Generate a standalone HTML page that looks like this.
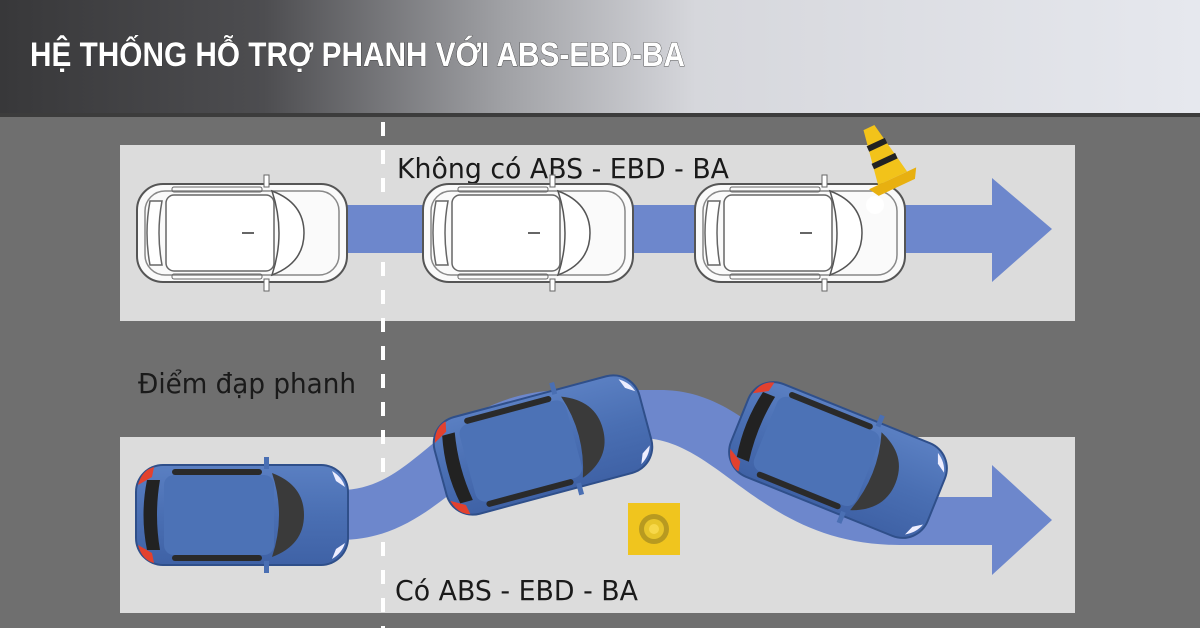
<!DOCTYPE html>
<html><head><meta charset="utf-8"><style>
html,body{margin:0;padding:0;width:1200px;height:628px;overflow:hidden;background:#6f6f6f}
svg{display:block}
</style></head><body>
<svg width="1200" height="628" viewBox="0 0 1200 628" xmlns="http://www.w3.org/2000/svg">
<defs>
<linearGradient id="hd" x1="0" x2="1" y1="0" y2="0">
<stop offset="0" stop-color="#38383a"/><stop offset="0.22" stop-color="#4d4d50"/><stop offset="0.42" stop-color="#a0a1a5"/><stop offset="0.58" stop-color="#d6d7dc"/><stop offset="1" stop-color="#e6e8ee"/>
</linearGradient>
<linearGradient id="blue" x1="0" x2="0" y1="0" y2="1">
<stop offset="0" stop-color="#5a7fc2"/><stop offset="0.5" stop-color="#4a6fb3"/><stop offset="1" stop-color="#3f62a6"/>
</linearGradient>
<g id="bcar">
<rect x="-107" y="-51" width="214" height="102" rx="28" fill="#2f4f8a"/>
<rect x="-105" y="-49" width="210" height="98" rx="26" fill="url(#blue)"/>
<path d="M-95,-35 Q-102,0 -95,35 L-82,35 Q-88,0 -82,-35Z" fill="#222"/>
<path d="M30,-42 Q62,-30 62,0 Q62,30 30,42 Q44,0 30,-42Z" fill="#3a3a3a"/>
<rect x="-78" y="-40" width="110" height="80" rx="10" fill="#4c72b6"/>
<rect x="-70" y="-46" width="90" height="6" rx="3" fill="#2a2a2a"/>
<rect x="-70" y="40" width="90" height="6" rx="3" fill="#2a2a2a"/>
<path d="M-104,-30 Q-100,-45 -88,-48 L-90,-38Z" fill="#e2412e"/>
<path d="M-104,30 Q-100,45 -88,48 L-90,38Z" fill="#e2412e"/>
<path d="M90,-44 Q100,-38 103,-28 L94,-34Z" fill="#eef"/>
<path d="M90,44 Q100,38 103,28 L94,34Z" fill="#eef"/>
<rect x="22" y="-58" width="5" height="12" fill="#4a6fb3"/>
<rect x="22" y="46" width="5" height="12" fill="#4a6fb3"/>
</g>
<g id="wcar">
<rect x="-105" y="-49" width="210" height="98" rx="26" fill="#fafafa" stroke="#555" stroke-width="2"/>
<rect x="-97" y="-42" width="194" height="84" rx="20" fill="none" stroke="#888" stroke-width="1.5"/>
<path d="M-92,-32 Q-98,0 -92,32 L-80,32 Q-86,0 -80,-32Z" fill="#fff" stroke="#666" stroke-width="1.5"/>
<path d="M30,-42 Q62,-30 62,0 Q62,30 30,42 Q44,0 30,-42Z" fill="#fff" stroke="#555" stroke-width="1.5"/>
<rect x="-76" y="-38" width="108" height="76" rx="8" fill="#fff" stroke="#666" stroke-width="1.5"/>
<rect x="-70" y="-46" width="90" height="5" rx="2" fill="none" stroke="#666"/>
<rect x="-70" y="41" width="90" height="5" rx="2" fill="none" stroke="#666"/>
<line x1="0" y1="0" x2="12" y2="0" stroke="#333" stroke-width="1.5"/>
<rect x="22" y="-58" width="5" height="12" fill="#fff" stroke="#666"/>
<rect x="22" y="46" width="5" height="12" fill="#fff" stroke="#666"/>
</g>
</defs>
<rect x="0" y="0" width="1200" height="628" fill="#6f6f6f"/>
<rect x="0" y="0" width="1200" height="113" fill="url(#hd)"/>
<rect x="0" y="113" width="1200" height="4" fill="#3c3c3c"/>
<text x="30" y="66" font-family="Liberation Sans, sans-serif" font-weight="bold" font-size="34" fill="#fff" stroke="#333" stroke-width="0.8" textLength="655" lengthAdjust="spacingAndGlyphs" style="paint-order:stroke">HỆ THỐNG HỖ TRỢ PHANH VỚI ABS-EBD-BA</text>
<rect x="120" y="145" width="955" height="176" fill="#dcdcdc"/>
<rect x="120" y="437" width="955" height="176" fill="#dcdcdc"/>
<line x1="383" y1="122" x2="383" y2="628" stroke="#fff" stroke-width="4" stroke-dasharray="14,14"/>
<path d="M340,205 L992,205 L992,178 L1052,229 L992,282 L992,253 L340,253Z" fill="#6d87cc"/>
<path d="M340,490 C420,490 440,395 560,390 L660,390 C760,390 790,497 900,497 L992,497 L992,465 L1052,520 L992,575 L992,545 L900,545 C760,545 720,438 640,438 L570,438 C470,442 440,540 340,540Z" fill="#6d87cc"/>
<text x="397" y="178" font-family="DejaVu Sans, sans-serif" font-size="28" fill="#1a1a1a" textLength="332" lengthAdjust="spacingAndGlyphs">Không có ABS - EBD - BA</text>
<text x="138" y="393" font-family="DejaVu Sans, sans-serif" font-size="28" fill="#1a1a1a" textLength="218" lengthAdjust="spacingAndGlyphs">Điểm đạp phanh</text>
<text x="395" y="600" font-family="DejaVu Sans, sans-serif" font-size="28" fill="#1a1a1a" textLength="243" lengthAdjust="spacingAndGlyphs">Có ABS - EBD - BA</text>
<use href="#wcar" transform="translate(242,233)"/>
<use href="#wcar" transform="translate(528,233)"/>
<use href="#wcar" transform="translate(800,233)"/>
<g transform="translate(885,162) rotate(-25)">
<path d="M-6,-38 L6,-38 L16,18 L-16,18Z" fill="#f2c31a"/>
<rect x="-10" y="-22" width="20" height="6" fill="#222"/>
<rect x="-13" y="-4" width="26" height="6" fill="#222"/>
<path d="M-26,18 L26,18 L20,28 L-20,28Z" fill="#e8b010"/>
</g>
<circle cx="875" cy="205" r="9" fill="#fff"/>
<use href="#bcar" transform="translate(242,515)"/>
<use href="#bcar" transform="translate(543,445) rotate(-15)"/>
<use href="#bcar" transform="translate(838,460) rotate(22)"/>
<rect x="628" y="503" width="52" height="52" fill="#f0c51e"/>
<circle cx="654" cy="529" r="15" fill="#b89a20"/>
<circle cx="654" cy="529" r="10" fill="#e8c52a"/>
<circle cx="654" cy="529" r="5" fill="#f7d84a"/>
</svg>
</body></html>
